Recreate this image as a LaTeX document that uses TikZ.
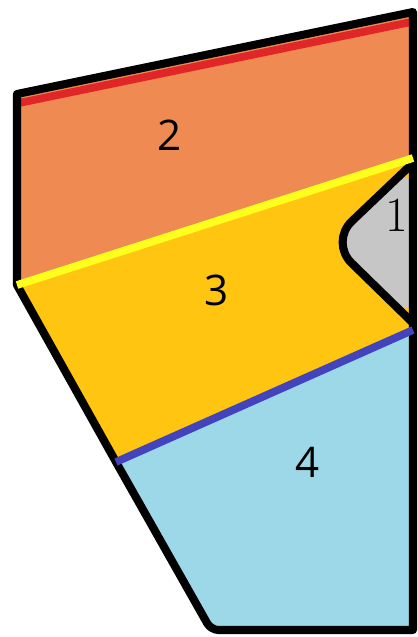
\documentclass[tikz,border=0pt]{standalone}
\usepackage{fontspec}
\newfontfamily\labelfont{Open Sans}
\usepackage{xcolor}
\usepackage{tikz}
\usetikzlibrary{
    positioning
}

\definecolor{zoneorange}{HTML}{EE8A52}
\definecolor{zoneamber}{HTML}{FFC510}
\definecolor{zonesky}{HTML}{9DD8E8}
\definecolor{zonegrey}{HTML}{C6C6C6}
\definecolor{seamred}{HTML}{E02626}
\definecolor{seamyellow}{HTML}{FFFF1E}
\definecolor{seamblue}{HTML}{4343BE}

\begin{document}
\begin{tikzpicture}[
    x=0.02cm,
    y=-0.02cm,
    border/.style={
        line width=4.6pt,
        line join=round,
        line cap=round
    },
    seam/.style={line width=4.4pt},
    zonelabel/.style={
        font=\labelfont\fontsize{24}{28}\selectfont
    }
]
\useasboundingbox (0,0) rectangle (417,637);

% corner points of the outline
\coordinate (topleft) at (17,94);
\coordinate (topright) at (413,12);
\coordinate (yellowleft) at (17,285);
\coordinate (yellowright) at (413,158);
\coordinate (blueleft) at (116,462);
\coordinate (blueright) at (413,330);
\coordinate (foot) at (211,630);
\coordinate (bottomright) at (413,630);

% zones
\fill[zoneorange] (topleft) -- (topright) -- (yellowright) -- (yellowleft) -- cycle;
\fill[zoneamber] (yellowleft) -- (yellowright) -- (blueright) -- (blueleft) -- cycle;
\fill[zonesky] (blueleft) -- (blueright) -- (bottomright) -- (foot) -- cycle;

% zone 1, the grey cusp
\coordinate (cusptop) at (413,163);
\coordinate (cuspmid) at (330,242);
\coordinate (cuspbottom) at (413,323);
\fill[zonegrey, rounded corners=0.6cm]
    (cusptop) -- (cuspmid) -- (cuspbottom) -- cycle;
\draw[border, rounded corners=0.6cm]
    (cusptop) -- (cuspmid) -- (cuspbottom);

% red strip under the top edge
\draw[seam, seamred] (19,103) -- (411,22);

% outline
\draw[border]
    (topright) -- (topleft) -- (yellowleft) -- (blueleft)
    [rounded corners=0.15cm] -- (foot) [sharp corners] -- (bottomright) -- cycle;

% seams
\draw[seam, seamyellow] (yellowleft) -- (yellowright);
\draw[seam, seamblue] (blueleft) -- (blueright);

% labels
\node[zonelabel] (zone2) at (170,135) {2};
\node[zonelabel] (zone3) at (217,290) {3};
\node[zonelabel] (zone4) at (308,462) {4};
\node[font=\fontsize{28}{32}\selectfont] (zone1) at (397,215) {1};

\end{tikzpicture}
\end{document}
